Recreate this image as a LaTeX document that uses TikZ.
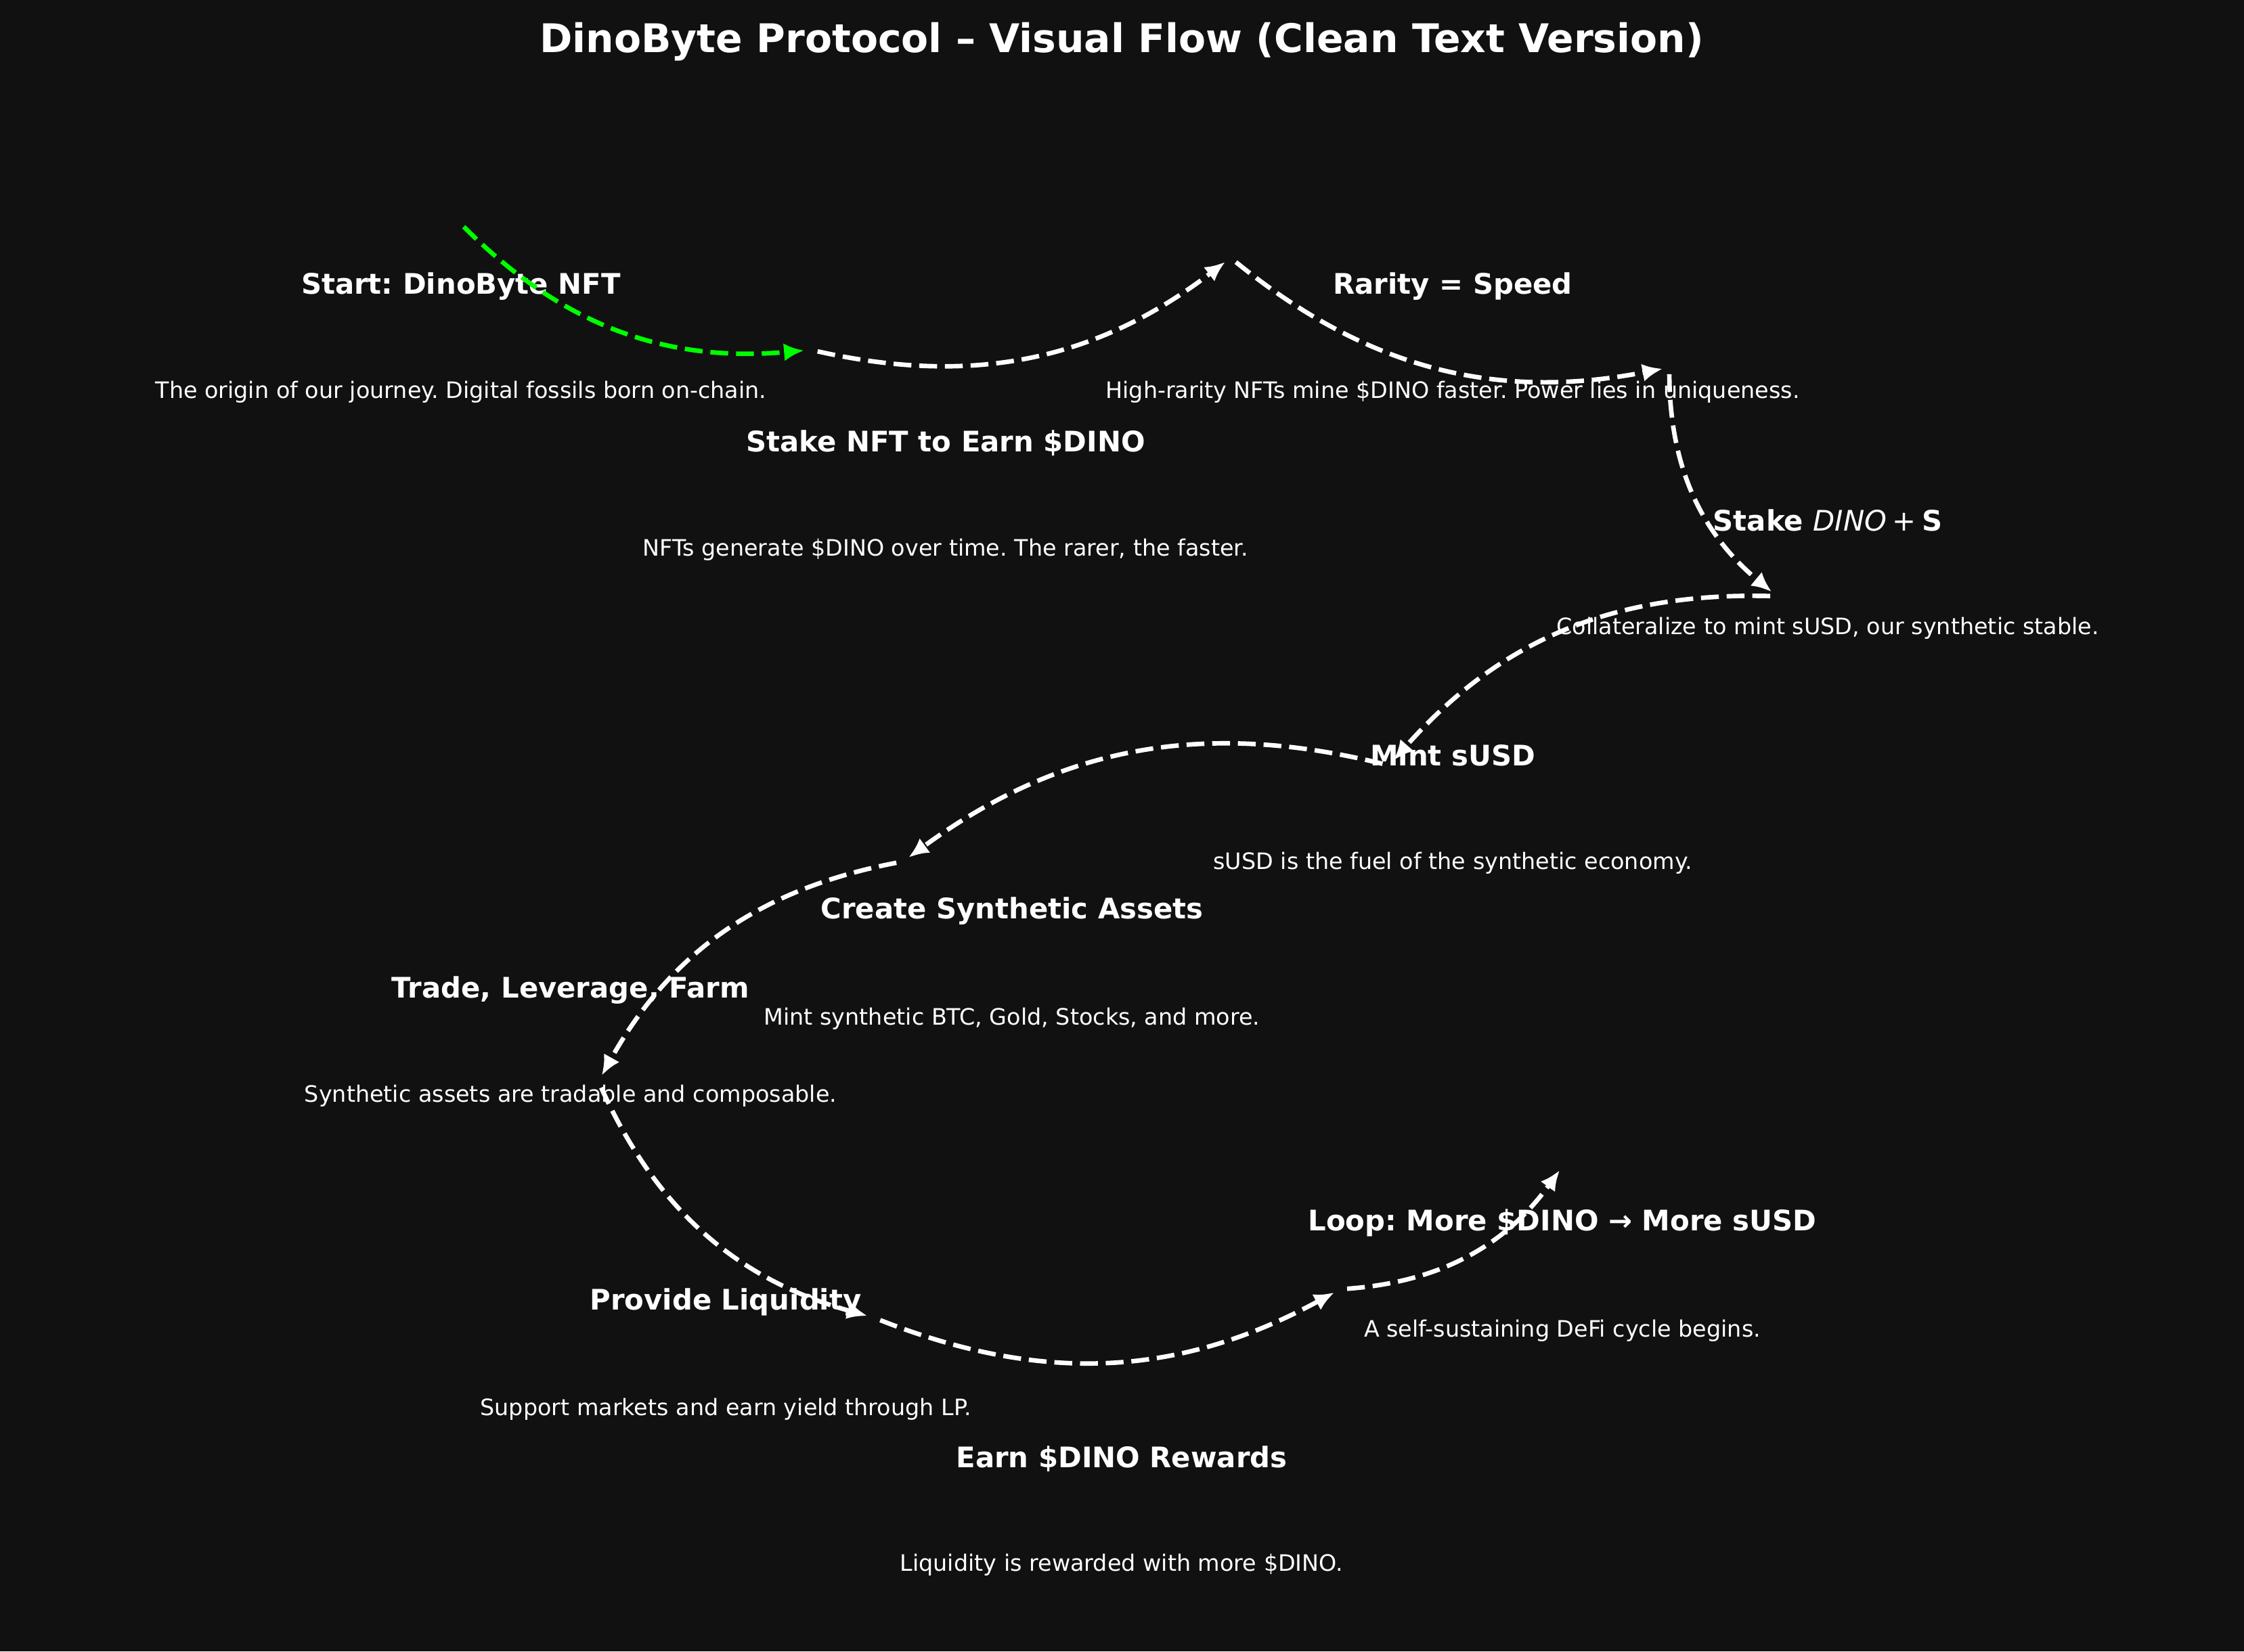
\documentclass[tikz,border=0pt]{standalone}
\usepackage{fontspec}
\setmainfont{DejaVu Sans}
\usetikzlibrary{arrows.meta}
\definecolor{bgdark}{HTML}{111111}
\definecolor{startgreen}{HTML}{00FF00}
\frenchspacing

\begin{document}
\begin{tikzpicture}[
		heading/.style={text=white,font=\fontsize{11.9}{14}\selectfont\bfseries},
		desc/.style={text=white,font=\fontsize{9.5}{11}\selectfont},
		flow/.style={white,line width=1.9pt,dash pattern=on 7.5pt off 3.3pt,
			-{Latex[length=8.5pt,width=7.5pt]},shorten <=0.1cm,shorten >=0.1cm,bend right=25}]

		% background
		\fill [bgdark] (0,0) rectangle (33.15,24.4);

		% title
		\node [text=white,font=\fontsize{16.6}{20}\selectfont\bfseries] (title) at (16.57,23.78)
			{DinoByte Protocol – Visual Flow (Clean Text Version)};

		% steps
		\node [heading] (nft) at (6.81,20.17) {Start: DinoByte NFT};
		\node [desc] (nftd) at (6.81,18.61) {The origin of our journey. Digital fossils born on-chain.};
		\node [heading] (stake) at (13.97,17.85) {Stake NFT to Earn \$DINO};
		\node [desc] (staked) at (13.97,16.28) {NFTs generate \$DINO over time. The rarer, the faster.};
		\node [heading] (rarity) at (21.46,20.17) {Rarity = Speed};
		\node [desc] (rarityd) at (21.46,18.61) {High-rarity NFTs mine \$DINO faster. Power lies in uniqueness.};
		\node [heading] (stakedino) at (27.00,16.71)
			{Stake {\mdseries\itshape DINO}\hspace{0.2em}{\mdseries +}\hspace{0.2em}S};
		\node [desc] (stakedinod) at (27.00,15.12) {Collateralize to mint sUSD, our synthetic stable.};
		\node [heading] (mint) at (21.46,13.24) {Mint sUSD};
		\node [desc] (mintd) at (21.46,11.65) {sUSD is the fuel of the synthetic economy.};
		\node [heading] (synth) at (14.95,10.94) {Create Synthetic Assets};
		\node [desc] (synthd) at (14.95,9.35) {Mint synthetic BTC, Gold, Stocks, and more.};
		\node [heading] (trade) at (8.43,9.77) {Trade, Leverage, Farm};
		\node [desc] (traded) at (8.43,8.21) {Synthetic assets are tradable and composable.};
		\node [heading] (liq) at (10.72,5.16) {Provide Liquidity};
		\node [desc] (liqd) at (10.72,3.58) {Support markets and earn yield through LP.};
		\node [heading] (earn) at (16.57,2.84) {Earn \$DINO Rewards};
		\node [desc] (earnd) at (16.57,1.28) {Liquidity is rewarded with more \$DINO.};
		\node [heading] (loop) at (23.08,6.33) {Loop: More \$DINO → More sUSD};
		\node [desc] (loopd) at (23.08,4.74) {A self-sustaining DeFi cycle begins.};

		% path points
		\coordinate (a0) at (6.78,21.12);
		\coordinate (a1) at (11.98,19.23);
		\coordinate (a2) at (18.18,20.59);
		\coordinate (a3) at (24.66,18.97);
		\coordinate (a4) at (26.25,15.59);
		\coordinate (a5) at (20.52,13.09);
		\coordinate (a6) at (13.34,11.67);
		\coordinate (a7) at (8.84,8.42);
		\coordinate (a8) at (12.91,4.93);
		\coordinate (a9) at (19.80,5.35);
		\coordinate (a10) at (23.10,7.19);

		% arrows
		\draw [flow,startgreen] (a0) to (a1);
		\draw [flow] (a1) to (a2);
		\draw [flow] (a2) to (a3);
		\draw [flow] (a3) to (a4);
		\draw [flow] (a4) to (a5);
		\draw [flow] (a5) to (a6);
		\draw [flow] (a6) to (a7);
		\draw [flow] (a7) to (a8);
		\draw [flow] (a8) to (a9);
		\draw [flow] (a9) to (a10);

\end{tikzpicture}
\end{document}
